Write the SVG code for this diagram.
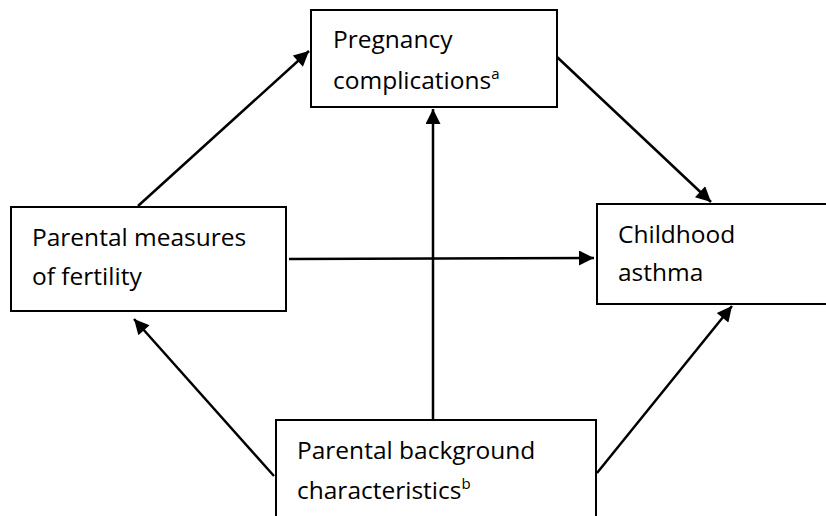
<svg xmlns="http://www.w3.org/2000/svg" width="826" height="516" viewBox="0 0 826 516">
<style>
.box{fill:#fff;stroke:#000;stroke-width:2}
.lbl{font-family:"Open Sans","Liberation Sans",sans-serif;font-size:24.5px;fill:#000}
.sup{font-size:15px}
.edge{stroke:#000;stroke-width:2.5;fill:none;marker-end:url(#ah)}
</style>
<defs>
<marker id="ah" viewBox="0 0 10 10" refX="10" refY="5" markerWidth="7" markerHeight="6" markerUnits="strokeWidth" orient="auto">
<path d="M0,0 L10,5 L0,10 z" fill="#000"/>
</marker>
</defs>
<rect width="826" height="516" fill="#fff"/>
<g id="n-pregnancy">
<rect class="box" x="311" y="10" width="246" height="97"/>
<text class="lbl" x="333" y="48">Pregnancy</text>
<text class="lbl" x="333" y="89">complications<tspan class="sup" dy="-10">a</tspan></text>
</g>
<g id="n-fertility">
<rect class="box" x="11" y="207" width="275" height="104"/>
<text class="lbl" x="32" y="246">Parental measures</text>
<text class="lbl" x="32" y="285">of fertility</text>
</g>
<g id="n-asthma">
<rect class="box" x="597" y="204" width="240" height="100"/>
<text class="lbl" x="618" y="243">Childhood</text>
<text class="lbl" x="618" y="281">asthma</text>
</g>
<g id="n-background">
<rect class="box" x="276" y="420" width="320" height="110"/>
<text class="lbl" x="297" y="459">Parental background</text>
<text class="lbl" x="297" y="499">characteristics<tspan class="sup" dy="-10">b</tspan></text>
</g>
<g id="connectors">
<line class="edge" x1="138" y1="206" x2="309" y2="51"/>
<line class="edge" x1="557" y1="57" x2="711" y2="202"/>
<line class="edge" x1="289" y1="259" x2="594" y2="258"/>
<line class="edge" x1="433" y1="419" x2="433" y2="109"/>
<line class="edge" x1="274" y1="476" x2="134" y2="319"/>
<line class="edge" x1="597" y1="473" x2="732" y2="306"/>
</g>
</svg>
